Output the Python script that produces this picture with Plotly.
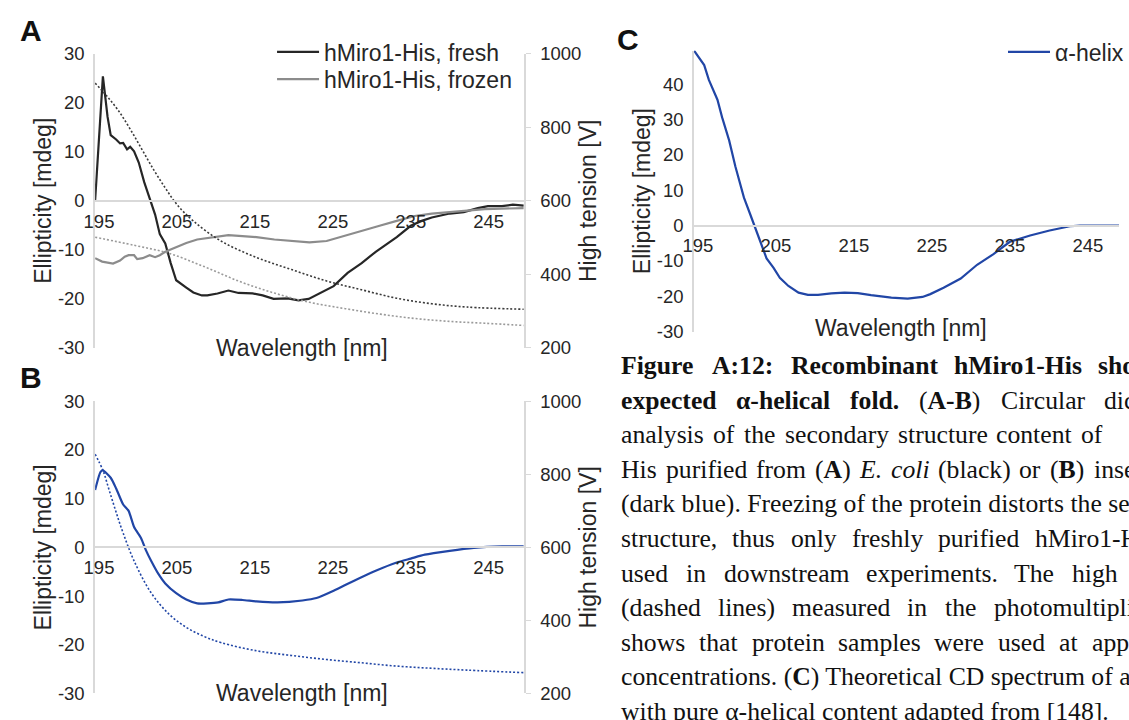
import re
import plotly.graph_objects as go

W, H = 1129, 720

# ---------------- data ----------------
# Panel A: hMiro1-His fresh (black) and frozen (grey), ellipticity [mdeg]
a_fresh_nm = [194.5, 195.5, 196.1, 196.5, 197.2, 197.7, 198.1, 198.6, 199.0, 199.5, 200.1, 200.8,
              201.5, 202.2, 202.8, 203.5, 204.2, 204.9, 206.2, 207.1, 208.2, 208.9, 210.2, 211.6,
              212.9, 214.7, 216.0, 217.4, 219.2, 220.6, 221.9, 222.8, 225.1, 226.9, 228.7, 230.5,
              233.2, 235.0, 236.4, 237.7, 240.0, 241.8, 243.6, 244.9, 246.7, 248.1, 249.5]
a_fresh_mdeg = [0.0, 25.4, 17.1, 13.4, 12.5, 11.7, 11.8, 10.5, 11.0, 10.1, 7.8, 3.8,
                0.5, -2.8, -6.8, -8.7, -12.7, -16.2, -17.7, -18.7, -19.3, -19.3, -18.9, -18.3,
                -18.8, -18.9, -19.3, -20.0, -19.9, -20.3, -20.0, -19.3, -17.4, -14.7, -12.7, -10.4,
                -7.4, -5.1, -4.1, -3.4, -2.6, -2.3, -1.5, -1.1, -1.1, -0.8, -1.0]
a_frozen_nm = [194.5, 195.4, 196.8, 197.7, 198.3, 198.8, 199.5, 199.9, 200.6, 201.5, 202.2, 202.8,
               203.5, 204.9, 206.2, 207.6, 208.9, 210.7, 211.6, 213.4, 215.2, 217.5, 219.7, 222.0,
               224.2, 226.5, 228.7, 231.0, 233.2, 235.5, 237.7, 240.0, 241.8, 244.5, 246.7, 249.5]
a_frozen_mdeg = [-11.7, -12.4, -12.8, -12.2, -11.4, -11.1, -11.1, -11.9, -11.7, -11.1, -11.5, -11.1,
                 -10.4, -9.4, -8.6, -7.9, -7.6, -7.2, -7.0, -7.2, -7.4, -7.9, -8.2, -8.5,
                 -8.2, -7.2, -6.1, -5.1, -4.1, -3.1, -2.6, -2.3, -2.1, -1.7, -1.6, -1.5]
# Panel A: high tension [V]
a_ht_fresh_nm = [194.5, 196.0, 197.5, 199.0, 200.5, 202.0, 203.5, 205.0, 207.1, 210.7, 215.2,
                 219.7, 224.2, 228.7, 233.2, 237.7, 242.2, 249.5]
a_ht_fresh_v = [920, 885, 845, 795, 740, 685, 635, 590, 545, 490, 446,
                413, 382, 358, 335, 320, 311, 305]
a_ht_frozen_nm = [194.5, 199.5, 204.0, 208.5, 213.0, 217.5, 222.0, 226.5, 231.0, 235.5, 240.0,
                  244.5, 249.5]
a_ht_frozen_v = [501, 479, 457, 421, 381, 349, 324, 307, 292, 280, 272, 267, 261]

# Panel B: insect-cell hMiro1-His (dark blue)
b_nm = [194.5, 195.2, 195.5, 196.5, 197.2, 198.1, 198.8, 199.5, 200.4, 201.0, 201.7, 202.6,
        203.5, 204.9, 206.2, 207.6, 208.9, 210.3, 211.6, 213.4, 215.2, 217.9, 221.1, 222.9,
        225.1, 227.4, 230.5, 233.2, 235.0, 236.8, 240.0, 243.1, 246.7, 249.5]
b_mdeg = [11.8, 15.5, 15.8, 14.3, 12.1, 8.8, 7.5, 4.2, 1.9, -0.5, -2.8, -5.4,
          -7.4, -9.4, -10.7, -11.5, -11.5, -11.3, -10.7, -10.8, -11.1, -11.3, -10.9, -10.4,
          -8.9, -7.1, -4.8, -3.1, -2.3, -1.5, -0.7, -0.1, 0.2, 0.2]
b_ht_nm = [194.5, 195.5, 196.3, 197.2, 198.1, 199.5, 201.7, 204.0, 206.2, 208.5, 210.7,
           215.2, 219.7, 224.2, 228.7, 233.2, 237.7, 242.2, 249.5]
b_ht_v = [855, 811, 757, 696, 639, 563, 475, 417, 381, 356, 339,
          317, 304, 293, 284, 275, 269, 264, 257]

# Panel C: theoretical alpha-helix spectrum
c_nm = [194.5, 195.1, 195.8, 196.4, 197.5, 198.1, 199.0, 199.8, 200.9, 201.7, 202.4, 203.2,
        203.8, 204.7, 205.5, 206.6, 207.9, 209.1, 210.4, 212.1, 213.8, 215.5, 217.2, 219.8,
        221.9, 223.8, 224.8, 226.5, 228.7, 230.8, 232.9, 235.0, 237.6, 240.1, 242.7, 244.0, 249.0]
c_mdeg = [49.5, 47.7, 45.4, 41.2, 35.6, 30.6, 24.1, 16.7, 7.9, 3.2, -0.9, -5.6,
          -9.3, -12.0, -14.8, -17.1, -19.0, -19.6, -19.6, -19.2, -19.0, -19.1, -19.7, -20.4,
          -20.7, -20.2, -19.4, -17.6, -15.0, -11.1, -8.1, -4.6, -2.8, -1.4, -0.2, 0.0, 0.0]

x_ticks = [195, 205, 215, 225, 235, 245]
ab_y_ticks = [-30, -20, -10, 0, 10, 20, 30]
c_y_ticks = [-30, -20, -10, 0, 10, 20, 30, 40]
ht_ticks = [200, 400, 600, 800, 1000]

# ---------------- styling helpers ----------------
SANS = "Liberation Sans, Arial, sans-serif"
SERIF = "Liberation Serif, Times New Roman, serif"
TXT = "#262626"
AXC = "#d9d9d9"
BLUE = "#2146a6"
TITLE_SIZE = 23


def fx(px):
    return px / W


def fy(py):
    return 1 - py / H


def labels(vals):
    return [str(v) for v in vals]  # plain hyphen minus like the original


A_X = [fx(85.7), fx(522.5)]
A_Y = [fy(347), fy(44)]
B_Y = [fy(703), fy(402)]
C_X = [fx(696), 1.0]
C_Y = [fy(330.2), fy(40.8)]
C_RANGE = [-30, 49.5]

fig = go.Figure()

fig.add_trace(go.Scatter(x=a_ht_fresh_nm, y=a_ht_fresh_v, xaxis="x", yaxis="y2", mode="lines",
                         line=dict(color="#3a3a3a", width=1.6, dash="2px,2px", shape="spline"),
                         showlegend=False))
fig.add_trace(go.Scatter(x=a_ht_frozen_nm, y=a_ht_frozen_v, xaxis="x", yaxis="y2", mode="lines",
                         line=dict(color="#9a9a9a", width=1.6, dash="2px,2px", shape="spline"),
                         showlegend=False))
fig.add_trace(go.Scatter(x=a_fresh_nm, y=a_fresh_mdeg, xaxis="x", yaxis="y", mode="lines",
                         name="hMiro1-His, fresh", line=dict(color="#262626", width=2.2),
                         legend="legend"))
fig.add_trace(go.Scatter(x=a_frozen_nm, y=a_frozen_mdeg, xaxis="x", yaxis="y", mode="lines",
                         name="hMiro1-His, frozen", line=dict(color="#8c8c8c", width=2.2),
                         legend="legend3"))

fig.add_trace(go.Scatter(x=b_ht_nm, y=b_ht_v, xaxis="x2", yaxis="y4", mode="lines",
                         line=dict(color=BLUE, width=1.6, dash="2px,2px", shape="spline"),
                         showlegend=False))
fig.add_trace(go.Scatter(x=b_nm, y=b_mdeg, xaxis="x2", yaxis="y3", mode="lines",
                         line=dict(color=BLUE, width=2.2, shape="spline", smoothing=0.6),
                         showlegend=False))

fig.add_trace(go.Scatter(x=c_nm, y=c_mdeg, xaxis="x3", yaxis="y5", mode="lines",
                         name="α-helix", line=dict(color=BLUE, width=2.2), legend="legend2"))


def zero_pos(dom, rng):
    return dom[0] + (0 - rng[0]) / (rng[1] - rng[0]) * (dom[1] - dom[0])


def xax(dom, rng, ypos):
    return dict(domain=dom, range=rng, anchor="free", position=ypos, showline=True,
                linecolor=AXC, linewidth=1.5, tickvals=x_ticks, ticktext=labels(x_ticks),
                ticks="", showgrid=False, zeroline=False,
                tickfont=dict(family=SANS, size=18.5, color=TXT), ticklabelstandoff=4)


def yleft(dom, rng, tv, anchor):
    return dict(domain=dom, range=rng, tickvals=tv, ticktext=labels(tv), anchor=anchor,
                showline=True, linecolor=AXC, linewidth=1.5, ticks="", showgrid=False,
                zeroline=False, tickfont=dict(family=SANS, size=18.5, color=TXT),
                ticklabelstandoff=5,
                title=dict(text="Ellipticity [mdeg]",
                           font=dict(family=SANS, size=TITLE_SIZE, color=TXT), standoff=0))


def yright(ov, dom, anchor):
    return dict(domain=dom, range=[200, 1000], tickvals=ht_ticks, ticktext=labels(ht_ticks),
                overlaying=ov, side="right", anchor=anchor, showline=True, linecolor=AXC,
                linewidth=1.5, ticks="outside", ticklen=5, tickcolor=AXC, showgrid=False,
                zeroline=False, tickfont=dict(family=SANS, size=18.5, color=TXT),
                ticklabelstandoff=6,
                title=dict(text="High tension [V]",
                           font=dict(family=SANS, size=TITLE_SIZE, color=TXT), standoff=0))


def leg(px, py, iw):
    return dict(x=fx(px), y=fy(py), xanchor="left", yanchor="top", bgcolor="rgba(0,0,0,0)",
                font=dict(family=SANS, size=TITLE_SIZE, color=TXT), itemwidth=iw)


fig.update_layout(
    width=W, height=H, margin=dict(l=0, r=0, t=0, b=0),
    paper_bgcolor="white", plot_bgcolor="rgba(0,0,0,0)",
    xaxis=xax(A_X, [194.5, 249.5], zero_pos(A_Y, [-30, 30])),
    yaxis=yleft(A_Y, [-30, 30], ab_y_ticks, "x"),
    yaxis2=yright("y", A_Y, "x"),
    xaxis2=xax(A_X, [194.5, 249.5], zero_pos(B_Y, [-30, 30])),
    yaxis3=yleft(B_Y, [-30, 30], ab_y_ticks, "x2"),
    yaxis4=yright("y3", B_Y, "x2"),
    xaxis3=xax(C_X, [194.5, 249.0], zero_pos(C_Y, C_RANGE)),
    yaxis5=yleft(C_Y, C_RANGE, c_y_ticks, "x3"),
    legend=leg(266, 20, 42),
    legend3=leg(266, 48, 42),
    legend2=leg(1011, 20, 42),
    showlegend=True,
)

ann = []
# panel letters
for lab, px, py in [("A", 20, 20), ("B", 20, 377), ("C", 629, 29)]:
    ann.append(dict(text="<b>%s</b>" % lab, x=fx(px), y=fy(py), xref="paper", yref="paper",
                    showarrow=False, xanchor="center", yanchor="middle",
                    font=dict(family=SANS, size=30, color="#111")))
# x-axis titles
for px, py in [(297, 347), (297, 703), (907, 327)]:
    ann.append(dict(text="Wavelength [nm]", x=fx(px), y=fy(py), xref="paper", yref="paper",
                    showarrow=False, xanchor="center", yanchor="middle",
                    font=dict(family=SANS, size=TITLE_SIZE, color=TXT)))

# ---------------- caption (justified, Times metrics) ----------------
CAP_SIZE = 25.7
CAP_X0 = 620
TR = {' ': 250, '(': 333, ')': 333, '.': 250, ',': 250, '-': 333, ':': 278, '[': 333, ']': 333,
      'A': 722, 'B': 667, 'C': 667, 'D': 722, 'E': 611, 'F': 556, 'H': 722, 'M': 889, 'T': 611,
      'a': 444, 'b': 500, 'c': 444, 'd': 500, 'e': 444, 'f': 333, 'g': 500, 'h': 500, 'i': 278,
      'k': 500, 'l': 278, 'm': 778, 'n': 500, 'o': 500, 'p': 500, 'r': 333, 's': 389, 't': 278,
      'u': 500, 'v': 500, 'w': 722, 'x': 500, 'y': 500, 'z': 444, 'α': 540}
TB = {' ': 250, '(': 333, ')': 333, '.': 250, ',': 250, '-': 333, ':': 333,
      'A': 722, 'B': 667, 'C': 722, 'F': 611, 'H': 778, 'M': 944, 'R': 722,
      'a': 500, 'b': 556, 'c': 444, 'd': 556, 'e': 444, 'f': 333, 'g': 500, 'h': 556, 'i': 278,
      'l': 278, 'm': 833, 'n': 556, 'o': 500, 'p': 556, 'r': 444, 's': 389, 't': 333, 'u': 556,
      'w': 722, 'x': 500, 'y': 500, 'α': 560}


def text_width(markup, size):
    bold, w = False, 0
    for tok in re.split(r'(<[^>]+>)', markup):
        if tok == '<b>':
            bold = True
        elif tok == '</b>':
            bold = False
        elif tok.startswith('<'):
            continue
        else:
            tbl = TB if bold else TR
            w += sum(tbl.get(ch, 500) for ch in tok)
    return w * size / 1000.0


# each justified line: words, and x where its last visible word starts
caption_lines = [
    (["<b>Figure</b>", "<b>A:12:</b>", "<b>Recombinant</b>", "<b>hMiro1-His</b>", "<b>shows</b>"], 1106),
    (["<b>expected</b>", "<b>α-helical</b>", "<b>fold.</b>", "(<b>A-B</b>)", "Circular", "dichroism"], 1112),
    (["analysis", "of", "the", "secondary", "structure", "content", "of"], 1088),
    (["His", "purified", "from", "(<b>A</b>)", "<i>E.</i>", "<i>coli</i>", "(black)", "or", "(<b>B</b>)",
      "insect"], 1101),
    (["(dark blue). Freezing of the protein distorts the secondary"], None),
    (["structure,", "thus", "only", "freshly", "purified", "hMiro1-His"], 1041),
    (["used", "in", "downstream", "experiments.", "The", "high"], 1079),
    (["(dashed", "lines)", "measured", "in", "the", "photomultiplier"], 1000),
    (["shows", "that", "protein", "samples", "were", "used", "at", "appropriate"], 1099),
    (["concentrations. (<b>C</b>) Theoretical CD spectrum of an"], None),
    (["with pure α-helical content adapted from [148]."], None),
]
for i, (words, last_x) in enumerate(caption_lines):
    py = 365.3 + 35.6 * i
    if last_x is None:
        xs = [CAP_X0]
    else:
        widths = [text_width(w, CAP_SIZE) for w in words]
        gap = (last_x - CAP_X0 - sum(widths[:-1])) / (len(words) - 1)
        xs, cur = [], CAP_X0
        for wdt in widths:
            xs.append(cur)
            cur += wdt + gap
    for txt, px in zip(words, xs):
        ann.append(dict(text=txt, x=fx(px), y=fy(py), xref="paper", yref="paper",
                        showarrow=False, xanchor="left", yanchor="middle",
                        font=dict(family=SERIF, size=CAP_SIZE, color="#111")))

fig.update_layout(annotations=ann)
fig.write_html("out.html",
               post_script="document.body.style.margin='0';document.body.style.overflow='hidden';")
